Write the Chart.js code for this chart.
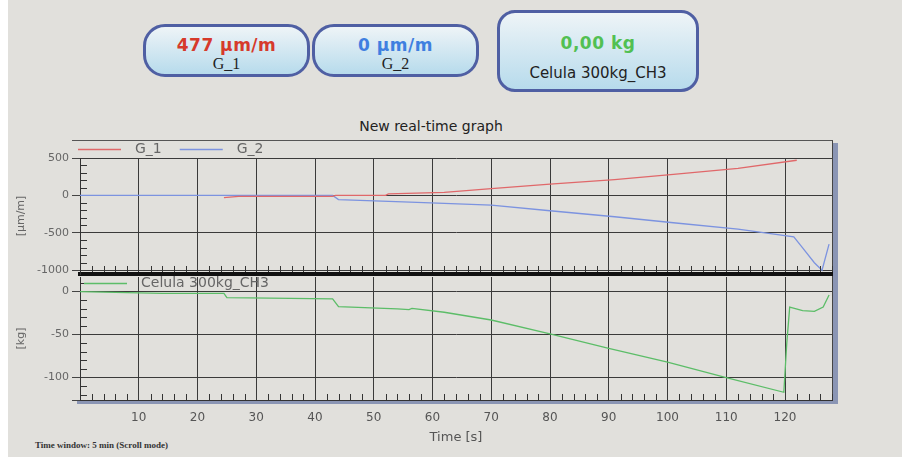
<!DOCTYPE html>
<html><head><meta charset="utf-8">
<script src="https://cdn.jsdelivr.net/npm/chart.js@4"></script>
<style>
html,body{margin:0;padding:0;background:#fff;width:902px;height:461px;overflow:hidden;font-family:"DejaVu Sans",sans-serif;}
.abs{position:absolute;}
#page{left:8px;top:0;width:894px;height:457px;background:#e1e0dc;}
.box{box-sizing:border-box;border:3px solid #4f5fa3;background:linear-gradient(#eef4f7,#b7dbec);text-align:center;}
.val{font-weight:bold;font-size:17px;letter-spacing:0.5px;}
.nm{font-family:"Liberation Serif",serif;font-size:16px;color:#222;}
#frame{left:72px;top:140px;width:761px;height:261px;box-sizing:border-box;border-top:1px solid #555;border-right:1px solid #444;border-bottom:1px solid #444;box-shadow:5px 3px 0 #8a95b4;}
#title{left:0;width:862px;top:118px;text-align:center;font-size:14px;color:#222;}
#tw{left:35px;top:440px;font-family:"Liberation Serif",serif;font-weight:bold;font-size:9px;color:#333;}
canvas{position:absolute;left:0;}
</style></head><body>
<div id="page" class="abs"></div>

<div class="abs box" style="left:143px;top:24px;width:167px;height:53px;border-radius:22px;">
  <div class="val" style="color:#d63a2b;margin-top:8px;">477 µm/m</div>
  <div class="nm" style="margin-top:0px;">G_1</div>
</div>
<div class="abs box" style="left:312px;top:24px;width:167px;height:53px;border-radius:22px;">
  <div class="val" style="color:#3f7fe0;margin-top:8px;">0 µm/m</div>
  <div class="nm" style="margin-top:0px;">G_2</div>
</div>
<div class="abs box" style="left:497px;top:10px;width:202px;height:82px;border-radius:18px;">
  <div class="val" style="color:#52c052;margin-top:20px;">0,00 kg</div>
  <div style="font-size:15px;color:#222;margin-top:11px;">Celula 300kg_CH3</div>
</div>

<div id="title" class="abs">New real-time graph</div>
<div id="frame" class="abs"></div>
<div id="tw" class="abs">Time window: 5 min (Scroll mode)</div>

<canvas id="c1" width="902" height="140" style="top:138px;width:902px;height:140px;"></canvas>
<canvas id="c2" width="902" height="185" style="top:276px;width:902px;height:185px;"></canvas>

<script>
// ---- data ----
const xTicks = [10, 20, 30, 40, 50, 60, 70, 80, 90, 100, 110, 120];
const yTicksTop = [500, 0, -500, -1000];
const yTicksBottom = [0, -50, -100];

const tG1 = [24.5, 27, 43, 43.5, 52, 52.5, 62, 70, 80, 91, 101, 112, 122];
const vG1 = [-30, -13, -13, 0, 0, 20, 40, 90, 150, 210, 280, 360, 470];

const tG2 = [0, 43, 44, 55, 62, 70, 80, 91, 101, 112, 121.5, 123, 125, 126.3, 127.5];
const vG2 = [0, 0, -55, -85, -105, -130, -205, -285, -365, -450, -555, -700, -900, -1000, -650];

const tCH3 = [0, 14, 24.5, 25, 43, 44, 54, 56, 56.5, 62, 70, 80, 90, 100, 110, 119.8, 120.3, 120.8, 123, 125, 126.5, 127.5];
const vCH3 = [0, -2, -2, -7, -8.5, -17.5, -20, -21, -19.5, -24, -33, -49, -66, -82, -100, -117, -60, -18, -22, -23, -18, -4];

const pts = (t, v) => t.map((x, i) => ({x, y: v[i]}));

// ---- decoration plugin: inner minor ticks + in-frame legend ----
const decor = {
  id: 'decor',
  afterDraw(chart, args, o) {
    const {ctx, chartArea: a, scales: {x, y}} = chart;
    ctx.save();
    ctx.strokeStyle = '#333';
    ctx.lineWidth = 1;
    for (let v = 0; v <= x.max; v += o.xMinor) {
      if (v % o.xMajor === 0 || v < x.min) continue;
      const px = Math.round(x.getPixelForValue(v)) + 0.5;
      ctx.beginPath(); ctx.moveTo(px, a.bottom - o.xOff); ctx.lineTo(px, a.bottom - o.xOff - 6); ctx.stroke();
    }
    for (let v = Math.ceil(y.min / o.yMinor) * o.yMinor; v <= y.max; v += o.yMinor) {
      if (v % o.yMajor === 0) continue;
      const py = Math.round(y.getPixelForValue(v)) + 0.5;
      ctx.beginPath(); ctx.moveTo(a.left, py); ctx.lineTo(a.left + 7, py); ctx.stroke();
    }
    // legend
    ctx.font = '14px "DejaVu Sans"';
    ctx.textBaseline = 'middle';
    let lx = o.legendX;
    chart.data.datasets.forEach(ds => {
      ctx.strokeStyle = ds.borderColor;
      ctx.lineWidth = 1.3;
      ctx.beginPath(); ctx.moveTo(lx, o.legendY + 0.5); ctx.lineTo(lx + 43, o.legendY + 0.5); ctx.stroke();
      ctx.fillStyle = '#666';
      ctx.fillText(ds.label, lx + 57, o.legendY);
      lx += 57 + ctx.measureText(ds.label).width + 18;
    });
    ctx.restore();
  }
};

const gridCol = '#3a3a3a';
const tickFont = {family: 'DejaVu Sans', size: 11};

function xScale(showLabels, borderColor, borderWidth, h) {
  return {
    type: 'linear', min: 0, max: 128,
    afterBuildTicks: s => { s.ticks = xTicks.map(v => ({value: v})); },
    afterFit: s => { s.height = h; s.paddingLeft = 0; s.paddingRight = 0; },
    grid: {color: gridCol, lineWidth: 1, drawTicks: false},
    border: {display: true, color: borderColor, width: borderWidth},
    ticks: {display: showLabels, color: '#555', padding: 11, maxRotation: 0,
            font: {family: 'DejaVu Sans', size: 12}, callback: v => String(v)},
    title: {display: showLabels, text: 'Time [s]', color: '#555',
            font: {family: 'DejaVu Sans', size: 13}, padding: {top: 0, bottom: 0}}
  };
}
function yScale(min, max, ticks, title) {
  return {
    type: 'linear', min, max,
    afterBuildTicks: s => { s.ticks = ticks.map(v => ({value: v})); },
    afterFit: s => { s.width = 80; s.paddingTop = 0; s.paddingBottom = 0; },
    grid: {color: gridCol, lineWidth: 1, drawTicks: true, tickLength: 8, tickColor: '#444'},
    border: {display: true, color: '#333', width: 1},
    ticks: {color: '#666', padding: 3, font: tickFont, callback: v => String(v)},
    title: {display: true, text: title, color: '#666', font: {family: 'DejaVu Sans', size: 11},
            padding: {top: 15, bottom: 0}}
  };
}

const common = {
  responsive: false, animation: false, events: [],
  elements: {point: {radius: 0}, line: {tension: 0, borderWidth: 1.3}},
};

new Chart(document.getElementById('c1'), {
  type: 'line',
  data: {datasets: [
    {label: 'G_1', data: pts(tG1, vG1), borderColor: '#e0686a'},
    {label: 'G_2', data: pts(tG2, vG2), borderColor: '#7c93e0'}
  ]},
  options: Object.assign({}, common, {
    layout: {padding: {left: 0, right: 70, top: 20, bottom: 4}},
    plugins: {legend: {display: false}, tooltip: {enabled: false},
      decor: {xMinor: 2, xMajor: 10, xOff: 2, yMinor: 100, yMajor: 500, legendX: 78, legendY: 11}},
    scales: {x: xScale(false, '#111', 4, 0), y: yScale(-1050, 500, yTicksTop, '[µm/m]')}
  }),
  plugins: [decor]
});

new Chart(document.getElementById('c2'), {
  type: 'line',
  data: {datasets: [
    {label: 'Celula 300kg_CH3', data: pts(tCH3, vCH3), borderColor: '#5cbd68'}
  ]},
  options: Object.assign({}, common, {
    layout: {padding: {left: 0, right: 70, top: 1, bottom: 16}},
    plugins: {legend: {display: false}, tooltip: {enabled: false},
      decor: {xMinor: 2, xMajor: 10, xOff: 0, yMinor: 10, yMajor: 50, legendX: 84, legendY: 7}},
    scales: {x: xScale(true, '#333', 1, 45), y: yScale(-126, 17, yTicksBottom, '[kg]')}
  }),
  plugins: [decor]
});
</script>
</body></html>
